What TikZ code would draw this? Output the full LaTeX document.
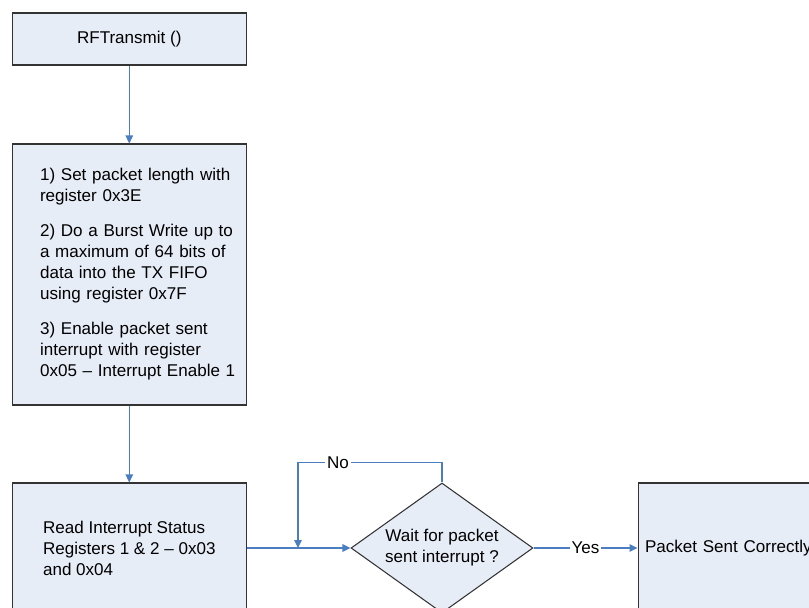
\documentclass[tikz,border=0pt]{standalone}
\usepackage{fontspec}
\setmainfont{Liberation Sans}
\usepackage{xcolor}
\usetikzlibrary{shapes.geometric,arrows.meta}

\definecolor{boxfill}{RGB}{231,237,247}
\definecolor{flowblue}{RGB}{74,126,193}

\tikzset{
  box/.style={draw=black!80, line width=0.6pt, fill=boxfill, minimum width=4.69cm, inner sep=0pt},
  decision/.style={diamond, aspect=1.4, draw=black!80, line width=0.6pt, fill=boxfill, minimum width=3.64cm, minimum height=2.6cm, inner sep=0pt, align=center},
  flow/.style={draw=flowblue, line width=0.6pt, -{Triangle[length=0.16cm,width=0.15cm]}},
  lbl/.style={fill=white, inner sep=1pt}
}

\begin{document}
\begin{tikzpicture}[x=0.02cm, y=-0.02cm, font=\fontsize{9.7pt}{11.95pt}\selectfont]
    \useasboundingbox (0,0) rectangle (809,608);
    \clip (0,0) rectangle (809,608);

    % Start
    \node[box, minimum height=1.04cm] (rf) at (129.3,39) {RFTransmit ()};

    % Load packet
    \node[box, minimum height=5.22cm, text width=4.49cm, inner xsep=0.1cm, align=left] (load) at (129.3,274.5)
        {\leftskip=0.46cm 1) Set packet length with\\
         register 0x3E\\[0.28cm]
         2) Do a Burst Write up to\\
         a maximum of 64 bits of\\
         data into the TX FIFO\\
         using register 0x7F\\[0.28cm]
         3) Enable packet sent\\
         interrupt with register\\
         0x05 -- Interrupt Enable 1\par};

    % Read status
    \node[box, minimum height=2.6cm, align=left] (readint) at (129.3,548)
        {Read Interrupt Status\\ Registers 1 \& 2 -- 0x03\\ and 0x04};

    % Wait loop
    \node[decision] (wait) at (442,548) {Wait for packet\\ sent interrupt ?};
    \coordinate (merge) at (298,548);

    % Done
    \node[box, minimum height=2.6cm, text width=4.41cm, inner xsep=0.14cm, align=left] (sent) at (755.3,548)
        {Packet Sent Correctly};

    % Connectors
    \draw[flow] (rf.south) -- (load.north);
    \draw[flow] (load.south) -- (readint.north);
    \draw[flow] (readint.east) -- (wait.west);
    \draw[flow] (wait.north) -- ++(0,-20) -| node[lbl, pos=0.361] {No} (merge);
    \draw[flow] (wait.east) -- node[lbl] {Yes} (sent.west);
\end{tikzpicture}
\end{document}
